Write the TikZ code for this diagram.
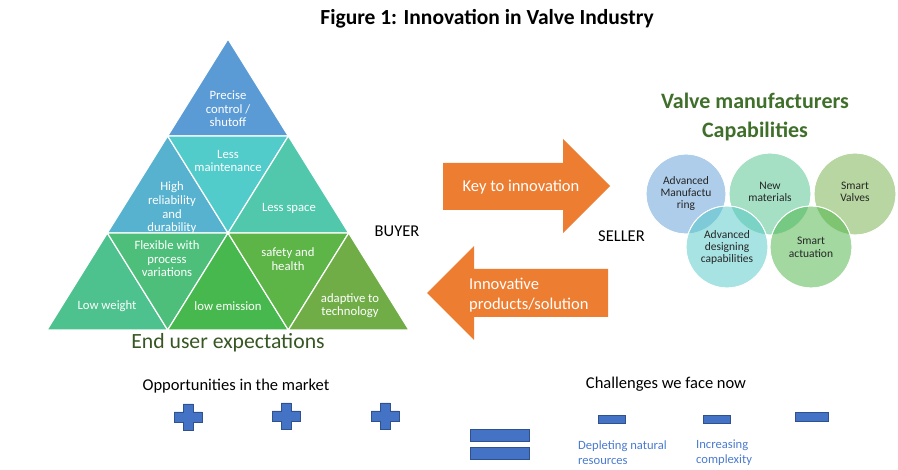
\documentclass[tikz,border=0pt]{standalone}
\usepackage{fontspec}
\setmainfont{Carlito}
\definecolor{tA}{HTML}{5B9BD5}
\definecolor{tB}{HTML}{57B2CF}
\definecolor{tC}{HTML}{52CBCB}
\definecolor{tD}{HTML}{51C8AC}
\definecolor{tE}{HTML}{4DC28E}
\definecolor{tF}{HTML}{4EBF7B}
\definecolor{tG}{HTML}{47B84D}
\definecolor{tH}{HTML}{5DB447}
\definecolor{tI}{HTML}{70AD47}
\definecolor{darkgreen}{HTML}{375623}
\definecolor{capgreen}{HTML}{3F6F2A}
\definecolor{arroworange}{HTML}{ED7D31}
\definecolor{cA}{HTML}{5B9BD5}
\definecolor{cB}{HTML}{4BC189}
\definecolor{cC}{HTML}{6FAD43}
\definecolor{cD}{HTML}{51C7C7}
\definecolor{cE}{HTML}{47B343}
\definecolor{symfill}{HTML}{4472C4}
\definecolor{symdraw}{HTML}{2F528F}
\definecolor{bluetext}{HTML}{4A7BCF}
\definecolor{circtext}{HTML}{262626}
\begin{document}
\begin{tikzpicture}[x=1pt,y=-1pt,
  tri/.style={draw=white,line width=1.2pt,line join=miter},
  tritext/.style={text=white,inner sep=0,align=center,font=\fontsize{12.7}{13.6}\selectfont},
  circ/.style={draw=white,line width=0.8pt,fill opacity=0.5},
  circlabel/.style={text=circtext,inner sep=0,align=center,font=\fontsize{11.5}{12.4}\selectfont},
  arrowshape/.style={fill=arroworange},
  arrowtext/.style={text=white,inner sep=0,font=\fontsize{16.5}{20}\selectfont},
  symb/.style={fill=symfill,draw=symdraw,line width=0.8pt},
  plussign/.pic={\draw[symb] (-5,-13) -- (5,-13) -- (5,-5) -- (14,-5) -- (14,5) -- (5,5) -- (5,13) -- (-5,13) -- (-5,5) -- (-14,5) -- (-14,-5) -- (-5,-5) -- cycle;},
  bluelabel/.style={text=bluetext,inner sep=0,align=left,anchor=west,font=\fontsize{12.6}{15}\selectfont},
  heading/.style={inner sep=0,font=\fontsize{16.5}{18}\selectfont},
  side/.style={inner sep=0,font=\fontsize{16.5}{18}\selectfont}
]
\useasboundingbox (0,0) rectangle (898,470);

% title
\node[inner sep=0,font=\bfseries\fontsize{21.5}{24}\selectfont] (title) at (487,19) {Figure 1: Innovation in Valve Industry};

% pyramid row 0
\fill[tA,tri] (228,39) -- (167.67,136) -- (288.33,136) -- cycle;
\node[tritext] (t1) at (228,109) {Precise\\control /\\shutoff};
% row 1
\fill[tB,tri] (167.67,136) -- (107.33,233) -- (228,233) -- cycle;
\fill[tC,tri] (167.67,136) -- (288.33,136) -- (228,233) -- cycle;
\fill[tD,tri] (288.33,136) -- (228,233) -- (348.67,233) -- cycle;
\node[tritext] (t2) at (172,208) {High\\reliability\\and\\durability};
\node[tritext] (t3) at (228,161) {Less\\maintenance};
\node[tritext] (t4) at (289,208) {Less space};
% row 2
\fill[tE,tri] (107.33,233) -- (47,330) -- (167.67,330) -- cycle;
\fill[tF,tri] (107.33,233) -- (228,233) -- (167.67,330) -- cycle;
\fill[tG,tri] (228,233) -- (167.67,330) -- (288.33,330) -- cycle;
\fill[tH,tri] (228,233) -- (348.67,233) -- (288.33,330) -- cycle;
\fill[tI,tri] (348.67,233) -- (288.33,330) -- (409,330) -- cycle;
\node[tritext] (t5) at (107,306) {Low weight};
\node[tritext] (t6) at (167,259) {Flexible with\\process\\variations};
\node[tritext] (t7) at (228,306) {low emission};
\node[tritext] (t8) at (288,259) {safety and\\health};
\node[tritext] (t9) at (350,305.5) {adaptive to\\technology};

\node[inner sep=0,text=darkgreen,font=\fontsize{21.7}{24}\selectfont] (enduser) at (228,343) {End user expectations};

\node[side] (buyer) at (397,231) {BUYER};
\node[side] (seller) at (621.5,236) {SELLER};

% arrows
\fill[arrowshape] (443,163) -- (563,163) -- (563,139) -- (610,186) -- (563,233) -- (563,210) -- (443,210) -- cycle;
\node[arrowtext] (key) at (521,187) {Key to innovation};
\fill[arrowshape] (427,293) -- (474,246) -- (474,269) -- (608,269) -- (608,317) -- (474,317) -- (474,340) -- cycle;
\node[arrowtext,align=left,anchor=west] (innov) at (469,295) {Innovative\\products/solution};

% capabilities
\node[inner sep=0,text=capgreen,align=center,font=\bfseries\fontsize{22}{29}\selectfont] (cap) at (755,117) {Valve manufacturers\\Capabilities};

\fill[circ,fill=cA] (686,194) circle (40);
\draw[white,line width=0.8pt] (686,194) circle (40);
\fill[circ,fill=cB] (770,194) circle (41);
\draw[white,line width=0.8pt] (770,194) circle (41);
\fill[circ,fill=cC] (855,194) circle (41);
\draw[white,line width=0.8pt] (855,194) circle (41);
\fill[circ,fill=cD] (727,247) circle (41);
\draw[white,line width=0.8pt] (727,247) circle (41);
\fill[circ,fill=cE] (811,247) circle (41);
\draw[white,line width=0.8pt] (811,247) circle (41);

\node[circlabel] (c1) at (686,193.5) {Advanced\\Manufactu\\ring};
\node[circlabel] (c2) at (770,192) {New\\materials};
\node[circlabel] (c3) at (855,192) {Smart\\Valves};
\node[circlabel] (c4) at (727,247.5) {Advanced\\designing\\capabilities};
\node[circlabel] (c5) at (811,247.5) {Smart\\actuation};

% bottom
\node[heading] (opp) at (236,386) {Opportunities in the market};
\node[heading] (chal) at (666,384) {Challenges we face now};
\pic at (188,417) {plussign};
\pic at (286,416) {plussign};
\pic at (385,416) {plussign};
\draw[symb] (470,429) rectangle (529,441);
\draw[symb] (470,447) rectangle (529,459);
\draw[symb] (598,415) rectangle (625,423);
\draw[symb] (703,415) rectangle (730,423);
\draw[symb] (795,412) rectangle (828,421);
\node[bluelabel] (dep) at (578,452.5) {Depleting natural\\resources};
\node[bluelabel] (inc) at (696,453) {Increasing\\complexity};
\end{tikzpicture}
\end{document}
